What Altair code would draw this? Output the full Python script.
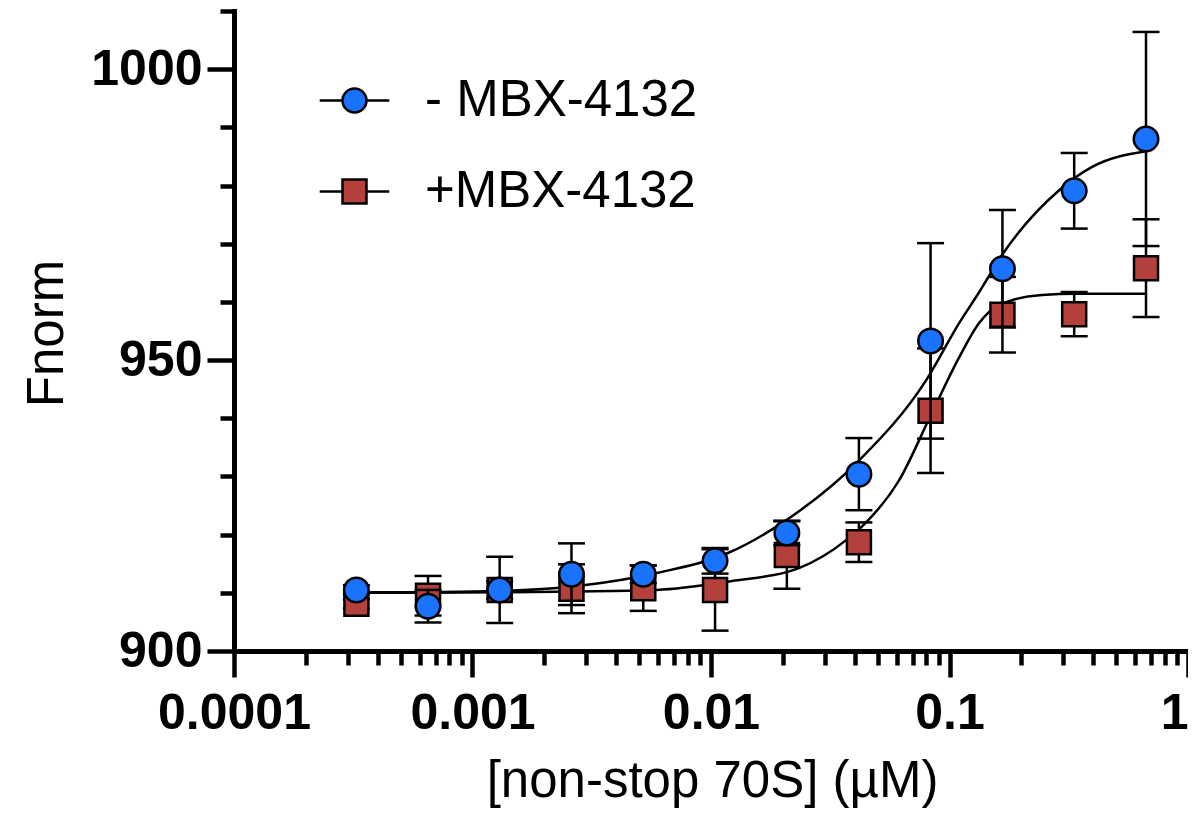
import altair as alt
import pandas as pd

# ---- data ----
conc = [0.000326, 0.000651, 0.0013, 0.0026, 0.0052, 0.0104, 0.0208, 0.0417,
        0.0833, 0.1667, 0.3333, 0.6667]

minus_mean = [910.5, 907.7, 910.5, 913.2, 913.2, 915.5, 920.3, 930.4, 953.3, 965.7, 979.1, 988.0]
minus_sd = [0.8, 2.8, 5.7, 5.3, 1.5, 2.2, 2.1, 6.2, 16.8, 10.1, 6.5, 18.4]

plus_mean = [908.1, 909.5, 910.5, 910.7, 910.8, 910.5, 916.5, 918.7, 941.3, 957.8, 957.9, 965.8]
plus_sd = [0.8, 3.4, 1.5, 4.2, 3.9, 7.0, 5.8, 3.4, 10.7, 6.5, 3.8, 8.4]

# fitted curves
curve_minus_x = [0.000326, 0.000601, 0.0013, 0.00281, 0.00591, 0.01172, 0.0207, 0.0419,
                 0.0800, 0.1099, 0.1333, 0.1663, 0.2884, 0.3963, 0.6667]
curve_minus_y = [910.1, 910.1, 910.3, 911.2, 913.4, 916.8, 922.5, 932.8,
                 946.6, 956.4, 961.7, 968.1, 979.2, 983.2, 985.9]

curve_plus_x = [0.000326, 0.0013, 0.00591, 0.01172, 0.0235, 0.0370, 0.0427, 0.0616,
                0.0830, 0.1099, 0.1333, 0.1466, 0.1832, 0.2448, 0.3396, 0.6667]
curve_plus_y = [910.0, 910.1, 910.5, 911.9, 914.3, 919.1, 921.3, 929.4,
                940.3, 950.5, 956.4, 958.3, 960.3, 961.2, 961.4, 961.4]

series_names = ["- MBX-4132", "+MBX-4132"]
series_colors = ["#1A73FF", "#B4403B"]

x_major = [0.0001, 0.001, 0.01, 0.1, 1]
x_minor = [m * 10.0 ** e for e in range(-4, 0) for m in range(2, 10)]
y_major = [900, 950, 1000]
y_minor = [910, 920, 930, 940, 960, 970, 980, 990, 1010]

FONT = "Liberation Sans"

# ---- tables ----
def pts(mean, sd, name):
    return pd.DataFrame({
        "conc": conc, "mean": mean,
        "lo": [m - s for m, s in zip(mean, sd)],
        "hi": [m + s for m, s in zip(mean, sd)],
        "series": name,
    })

df_minus = pts(minus_mean, minus_sd, series_names[0])
df_plus = pts(plus_mean, plus_sd, series_names[1])
df_curves = pd.concat([
    pd.DataFrame({"conc": curve_minus_x, "fit": curve_minus_y, "series": series_names[0]}),
    pd.DataFrame({"conc": curve_plus_x, "fit": curve_plus_y, "series": series_names[1]}),
])
df_legend = pd.DataFrame({"series": series_names, "conc": [1e-6, 1e-6], "mean": [950, 950]})

xs = alt.Scale(type="log", domain=[0.0001, 1])
ys = alt.Scale(domain=[900, 1010])

# ---- axes ----
x_minor_axis = alt.Axis(values=x_minor, labels=False, tickSize=14, domain=False,
                        grid=False, title=None, orient="bottom")
y_minor_axis = alt.Axis(values=y_minor, labels=False, tickSize=14, domain=False,
                        grid=False, title=None, orient="left")
x_major_axis = alt.Axis(values=x_major, format="~g", tickSize=26, grid=False, orient="bottom",
                        labelFlush=False, labelOverlap=False, labelPadding=11,
                        labelAlign={"condition": {"test": "datum.value >= 0.999", "value": "right"},
                                    "value": "center"},
                        labelFontSize=50, labelFontWeight="bold", labelFont=FONT,
                        title="[non-stop 70S] (µM)", titleFontSize=51, titleFont=FONT,
                        titleFontWeight="normal", titleBaseline="alphabetic",
                        titleX=478, titleY=145)
y_major_axis = alt.Axis(values=y_major, format="d", tickSize=27, grid=False, orient="left",
                        labelFlush=False, labelOverlap=False, labelPadding=5,
                        labelFontSize=50, labelFontWeight="bold", labelFont=FONT,
                        title="Fnorm", titleFontSize=51, titleFont=FONT,
                        titleFontWeight="normal", titleBaseline="alphabetic",
                        titleAngle=270, titleAlign="center", titleX=-172, titleY=322)

# ---- layers ----
curves = alt.Chart(df_curves).mark_line(color="black", strokeWidth=2.5, interpolate="monotone").encode(
    x=alt.X("conc:Q", scale=xs, axis=x_minor_axis),
    y=alt.Y("fit:Q", scale=ys, axis=y_minor_axis),
    detail="series:N",
)

def bars(df):
    base = alt.Chart(df)
    r = base.mark_rule(color="black", strokeWidth=2.5).encode(
        x=alt.X("conc:Q", scale=xs, axis=None),
        y=alt.Y("lo:Q", scale=ys, axis=None), y2="hi:Q")
    t1 = base.mark_tick(orient="horizontal", size=27, thickness=2.5, color="black", opacity=1).encode(
        x=alt.X("conc:Q", scale=xs, axis=None), y=alt.Y("lo:Q", scale=ys, axis=None))
    t2 = base.mark_tick(orient="horizontal", size=27, thickness=2.5, color="black", opacity=1).encode(
        x=alt.X("conc:Q", scale=xs, axis=None), y=alt.Y("hi:Q", scale=ys, axis=None))
    return [r, t1, t2]

plus_pts = alt.Chart(df_plus).mark_point(shape="square", filled=True, fill=series_colors[1],
                                         stroke="black", strokeWidth=2.5, size=576, opacity=1).encode(
    x=alt.X("conc:Q", scale=xs, axis=None),
    y=alt.Y("mean:Q", scale=ys, axis=None),
)
minus_pts = alt.Chart(df_minus).mark_point(shape="circle", filled=True, fill=series_colors[0],
                                           stroke="black", strokeWidth=2.5, size=600, opacity=1).encode(
    x=alt.X("conc:Q", scale=xs, axis=x_major_axis),
    y=alt.Y("mean:Q", scale=ys, axis=y_major_axis),
)

circle_path = "M-2.9,0L-1,0M1,0L2.9,0M-1,0A1,1,0,1,1,1,0A1,1,0,1,1,-1,0Z"
square_path = "M-2.9,0L-1,0M1,0L2.9,0M-1,-1L1,-1L1,1L-1,1Z"
leg = alt.Legend(title=None, orient="none", legendX=95, legendY=64, padding=0,
                 symbolSize=576, symbolStrokeWidth=2.5, symbolStrokeColor="black",
                 symbolOpacity=1, labelFontSize=51, labelFont=FONT, labelColor="black",
                 labelOffset=45, rowPadding=39, labelLimit=0)
legend_layer = alt.Chart(df_legend).mark_point(clip=True, filled=True,
                                               strokeWidth=2.5, opacity=1).encode(
    x=alt.X("conc:Q", scale=xs, axis=None),
    y=alt.Y("mean:Q", scale=ys, axis=None),
    shape=alt.Shape("series:N", scale=alt.Scale(domain=series_names, range=[circle_path, square_path]),
                    legend=leg),
    fill=alt.Fill("series:N", scale=alt.Scale(domain=series_names, range=series_colors), legend=leg),
    stroke=alt.Stroke("series:N", scale=alt.Scale(domain=series_names, range=["black", "black"]),
                      legend=leg),
)

layers = [curves] + bars(df_plus) + [plus_pts] + bars(df_minus) + [minus_pts, legend_layer]

chart = alt.layer(*layers).resolve_axis(x="independent", y="independent").properties(
    width=954, height=640,
    autosize=alt.AutoSizeParams(type="none"),
    padding={"left": 226, "top": 3, "right": 0, "bottom": 157},
).configure_view(stroke=None).configure_axis(
    domainColor="black", domainWidth=5, domainCap="square",
    tickColor="black", tickWidth=4.5,
    labelColor="black", titleColor="black",
)

chart.save("out.html", embed_options={"renderer": "svg", "actions": False})
